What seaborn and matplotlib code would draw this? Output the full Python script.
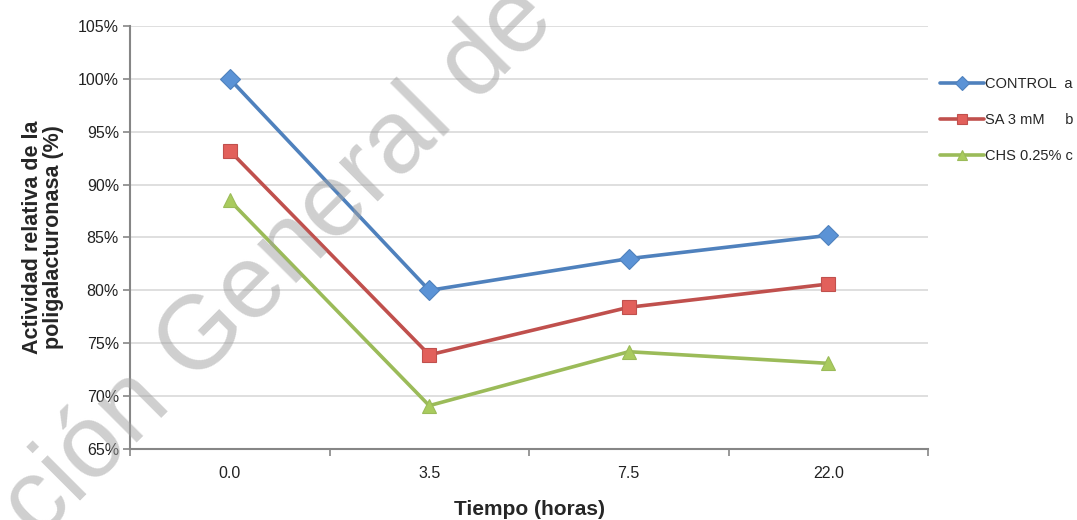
import matplotlib
matplotlib.use("Agg")
import matplotlib.pyplot as plt
from matplotlib.ticker import PercentFormatter, FixedLocator
import seaborn as sns
import pandas as pd

# ---- data ----
tiempos = ["0.0", "3.5", "7.5", "22.0"]
series_names = ["CONTROL  a", "SA 3 mM     b", "CHS 0.25% c"]
control = [100.0, 80.0, 83.0, 85.2]
sa_3mm = [93.2, 73.9, 78.4, 80.6]
chs_025 = [88.5, 69.1, 74.2, 73.1]

colors = ["#4F81BD", "#C0504D", "#9BBB59"]
face_colors = ["#5B93D6", "#E2605B", "#A9CB5E"]
marker_list = ["D", "s", "^"]

rows = []
for name, vals in zip(series_names, [control, sa_3mm, chs_025]):
    for t, v in zip(tiempos, vals):
        rows.append({"Tiempo": t, "valor": v, "serie": name})
df = pd.DataFrame(rows)

sns.set_style("white")
plt.rcParams["font.family"] = ["Liberation Sans Narrow", "Liberation Sans", "DejaVu Sans"]

fig = plt.figure(figsize=(10.77, 5.20), dpi=100)
ax = fig.add_axes([130 / 1077, 1 - 449 / 520, (928 - 130) / 1077, (449 - 26) / 520])

sns.lineplot(
    data=df, x="Tiempo", y="valor", hue="serie", style="serie",
    palette=dict(zip(series_names, colors)),
    markers=dict(zip(series_names, marker_list)),
    dashes=False, sort=False, ax=ax, linewidth=2.6, markersize=10,
    markeredgewidth=0.8, legend="full", zorder=3,
)

for line, c, fc in zip(ax.get_lines(), colors, face_colors):
    line.set_markeredgecolor(c)
    line.set_markerfacecolor(fc)

ax.set_ylim(65, 105)
ax.set_yticks(range(65, 106, 5))
ax.yaxis.set_major_formatter(PercentFormatter(decimals=0))
ax.set_xlim(-0.5, len(tiempos) - 0.5)

ax.grid(axis="y", color="#D9D9D9", linewidth=1.2, zorder=0)
ax.grid(axis="x", visible=False)
for s in ["top", "right"]:
    ax.spines[s].set_visible(False)
for s in ["left", "bottom"]:
    ax.spines[s].set_color("#868686")
    ax.spines[s].set_linewidth(1.5)

ax.tick_params(axis="y", which="major", direction="out", length=5, width=1.2,
               color="#868686", labelsize=11.5, pad=3, left=True)
ax.tick_params(axis="x", which="major", length=0, labelsize=11.5, pad=12)
ax.xaxis.set_minor_locator(FixedLocator([i - 0.5 for i in range(len(tiempos) + 1)]))
ax.tick_params(axis="x", which="minor", direction="out", length=5, width=1.2,
               color="#868686", bottom=True)
for lbl in ax.get_xticklabels() + ax.get_yticklabels():
    lbl.set_color("#222222")

ax.set_xlabel("Tiempo (horas)", fontsize=15, fontweight="bold", labelpad=14)
ax.set_ylabel("Actividad relativa de la\npoligalacturonasa (%)", fontsize=15.5,
              fontweight="bold", family=["Liberation Sans", "DejaVu Sans"], labelpad=10,
              linespacing=1.0)

handles, labels = ax.get_legend_handles_labels()
for h, c, fc in zip(handles, colors, face_colors):
    h.set_markeredgecolor(c)
    h.set_markerfacecolor(fc)
ax.legend(handles, labels, loc="upper left",
          bbox_to_anchor=(940 / 1077, 1 - 77 / 520), bbox_transform=fig.transFigure,
          frameon=False, fontsize=10.5, handlelength=3.0, handletextpad=0.1,
          labelspacing=1.5, borderpad=0, borderaxespad=0, markerscale=0.75)

# watermark
fs_px = 104
fig.text(38 / 1077, 1 - 541 / 520, "ción General de", rotation=45,
         rotation_mode="anchor", ha="left", va="baseline",
         fontsize=fs_px * 72 / 100, color="#A0A0A0", alpha=0.5,
         family=["Liberation Sans", "DejaVu Sans"], zorder=10)

fig.savefig("out.png", dpi=100)
